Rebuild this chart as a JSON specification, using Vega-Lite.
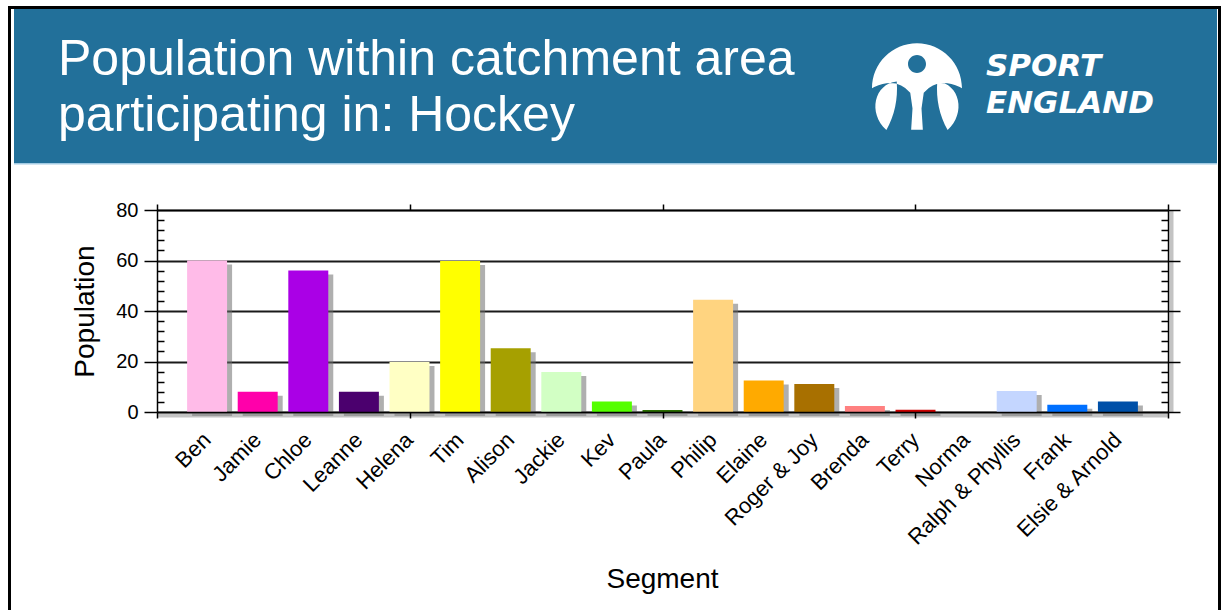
{
  "$schema": "https://vega.github.io/schema/vega-lite/v6.json",
  "width": 1011,
  "height": 202,
  "autosize": {"type": "none"},
  "padding": {"left": 157, "top": 210, "right": 55, "bottom": 198},
  "background": "white",
  "config": {"view": {"stroke": null}, "font": "Liberation Sans"},
  "datasets": {
    "segments": [
      {"Segment": "Ben", "Population": 60},
      {"Segment": "Jamie", "Population": 8},
      {"Segment": "Chloe", "Population": 56},
      {"Segment": "Leanne", "Population": 8},
      {"Segment": "Helena", "Population": 19.8},
      {"Segment": "Tim", "Population": 59.8},
      {"Segment": "Alison", "Population": 25.2},
      {"Segment": "Jackie", "Population": 15.8},
      {"Segment": "Kev", "Population": 4.2},
      {"Segment": "Paula", "Population": 0.8},
      {"Segment": "Philip", "Population": 44.5},
      {"Segment": "Elaine", "Population": 12.5},
      {"Segment": "Roger & Joy", "Population": 11.1},
      {"Segment": "Brenda", "Population": 2.4},
      {"Segment": "Terry", "Population": 0.9},
      {"Segment": "Norma", "Population": 0},
      {"Segment": "Ralph & Phyllis", "Population": 8.3},
      {"Segment": "Frank", "Population": 2.9},
      {"Segment": "Elsie & Arnold", "Population": 4.2}
    ]
  },
  "data": {"name": "segments"},
  "resolve": {
    "scale": {"x": "independent", "y": "independent"},
    "axis": {"x": "independent", "y": "independent"}
  },
  "layer": [
    {
      "data": {"values": [{}]},
      "mark": {"type": "rect", "fill": "#22709a"},
      "encoding": {"x": {"value": -143}, "x2": {"value": 1060}, "y": {"value": -201}, "y2": {"value": -47}}
    },
    {
      "data": {"values": [{}]},
      "mark": {"type": "rect", "fill": "#a3cbe3"},
      "encoding": {"x": {"value": -143}, "x2": {"value": 1060}, "y": {"value": -47}, "y2": {"value": -45.5}}
    },
    {
      "data": {"values": [{}]},
      "mark": {"type": "rect", "fill": "transparent", "stroke": "#000", "strokeWidth": 3},
      "encoding": {"x": {"value": -147.5}, "x2": {"value": 1062.5}, "y": {"value": -202.5}, "y2": {"value": 450}}
    },
    {
      "data": {"values": [{}]},
      "mark": {
        "type": "text",
        "text": ["Population within catchment area", "participating in: Hockey"],
        "font": "Liberation Sans",
        "fontSize": 50,
        "color": "#ffffff",
        "align": "left",
        "baseline": "alphabetic",
        "lineHeight": 56
      },
      "encoding": {"x": {"value": -99}, "y": {"value": -135}}
    },
    {
      "data": {"values": [{}]},
      "mark": {
        "type": "text",
        "text": ["SPORT", "ENGLAND"],
        "font": "DejaVu Sans",
        "fontWeight": "bold",
        "fontStyle": "italic",
        "fontSize": 31,
        "lineHeight": 37,
        "color": "#ffffff",
        "align": "left",
        "baseline": "alphabetic"
      },
      "encoding": {"x": {"value": 829}, "y": {"value": -134}}
    },
    {
      "data": {"values": [{}]},
      "mark": {
        "type": "point",
        "shape": "M -1,0.05 A 1 1 0 0 1 1,0.05 L 0.95,0.02 Q 0.45,-0.2 0.15,0.15 L 0.1,0.5 L 0.13,0.97 L -0.13,0.97 L -0.1,0.5 L -0.15,0.15 Q -0.45,-0.2 -0.95,0.02 Z M 0.2,-0.49 A 0.2 0.2 0 1 0 -0.2,-0.49 A 0.2 0.2 0 1 0 0.2,-0.49 Z M -0.45,-0.1 C -0.95,-0.05 -1.1,0.6 -0.68,0.98 C -0.5,0.65 -0.42,0.3 -0.45,-0.1 Z M 0.45,-0.1 C 0.95,-0.05 1.1,0.6 0.68,0.98 C 0.5,0.65 0.42,0.3 0.45,-0.1 Z",
        "size": 8100,
        "filled": true,
        "color": "#ffffff",
        "opacity": 1,
        "strokeWidth": 0
      },
      "encoding": {"x": {"value": 760}, "y": {"value": -124}}
    },
    {
      "encoding": {
        "x": {
          "field": "Segment",
          "type": "nominal",
          "sort": null,
          "scale": {"paddingInner": 0.21, "paddingOuter": 0.595},
          "axis": {
            "orient": "bottom",
            "zindex": 1,
            "ticks": false,
            "tickSize": 0,
            "domain": true,
            "domainColor": "#000",
            "domainWidth": 1.5,
            "labelAngle": -45,
            "labelAlign": "right",
            "labelBaseline": "middle",
            "labelPadding": 24,
            "labelFont": "Liberation Sans",
            "labelFontSize": 22,
            "labelColor": "#000",
            "labelOverlap": false,
            "title": "Segment",
            "titleFont": "Liberation Sans",
            "titleFontSize": 28,
            "titleFontWeight": "normal",
            "titleColor": "#000",
            "titleX": 505,
            "titleY": 175,
            "titleAlign": "center",
            "titleBaseline": "alphabetic"
          }
        },
        "y": {
          "field": "Population",
          "type": "quantitative",
          "scale": {"domain": [0, 80], "nice": false},
          "axis": {
            "orient": "left",
            "values": [0, 20, 40, 60, 80],
            "grid": true,
            "gridColor": "#1a1a1a",
            "gridWidth": 2,
            "gridOpacity": 1,
            "domainColor": "#000",
            "domainWidth": 1.5,
            "tickColor": "#000",
            "tickSize": 13,
            "tickWidth": 1.5,
            "labelFont": "Liberation Sans",
            "labelFontSize": 20,
            "labelColor": "#000",
            "labelPadding": 6,
            "title": "Population",
            "titleFont": "Liberation Sans",
            "titleFontSize": 28,
            "titleFontWeight": "normal",
            "titleColor": "#000",
            "titleAngle": -90,
            "titleX": -64,
            "titleY": 101,
            "titleAlign": "center",
            "titleBaseline": "alphabetic"
          }
        }
      },
      "layer": [
        {"mark": {"type": "bar", "color": "#6e6e6e", "opacity": 0.55, "xOffset": 5, "yOffset": 4}},
        {
          "mark": {"type": "bar"},
          "encoding": {
            "color": {
              "field": "Segment",
              "type": "nominal",
              "legend": null,
              "scale": {
                "domain": ["Ben", "Jamie", "Chloe", "Leanne", "Helena", "Tim", "Alison", "Jackie", "Kev", "Paula", "Philip", "Elaine", "Roger & Joy", "Brenda", "Terry", "Norma", "Ralph & Phyllis", "Frank", "Elsie & Arnold"],
                "range": ["#ffbbe8", "#ff00aa", "#aa00e6", "#4b006e", "#ffffc4", "#ffff00", "#a6a000", "#d2ffc4", "#55ff00", "#2a6e00", "#ffd480", "#ffaa00", "#a87000", "#ff8080", "#cc0000", "#aaaaaa", "#c4d6ff", "#0070ff", "#0050a8"]
              }
            }
          }
        }
      ]
    },
    {
      "data": {"values": [{}]},
      "mark": {"type": "rule", "color": "#888888", "opacity": 0.5, "strokeWidth": 4, "yOffset": 3.5},
      "encoding": {"y": {"datum": 0, "type": "quantitative", "scale": {"domain": [0, 80], "nice": false}, "axis": null}}
    },
    {
      "data": {"values": [{}]},
      "mark": {"type": "point", "opacity": 0},
      "encoding": {
        "y": {
          "datum": 0,
          "type": "quantitative",
          "scale": {"domain": [0, 80], "nice": false},
          "axis": {"orient": "left", "zindex": 1, "values": [4, 8, 12, 16, 24, 28, 32, 36, 44, 48, 52, 56, 64, 68, 72, 76], "tickSize": -7, "tickColor": "#000", "tickWidth": 1.5, "labels": false, "domain": false, "grid": false, "title": null}
        }
      }
    },
    {
      "data": {"values": [{}]},
      "mark": {"type": "point", "opacity": 0},
      "encoding": {
        "y": {
          "datum": 0,
          "type": "quantitative",
          "scale": {"domain": [0, 80], "nice": false},
          "axis": {"orient": "right", "zindex": 1, "values": [0, 20, 40, 60, 80], "tickSize": 12, "tickColor": "#000", "tickWidth": 1.5, "labels": false, "domain": true, "domainColor": "#000", "domainWidth": 1.5, "grid": false, "title": null}
        }
      }
    },
    {
      "data": {"values": [{}]},
      "mark": {"type": "point", "opacity": 0},
      "encoding": {
        "y": {
          "datum": 0,
          "type": "quantitative",
          "scale": {"domain": [0, 80], "nice": false},
          "axis": {"orient": "right", "zindex": 1, "values": [4, 8, 12, 16, 24, 28, 32, 36, 44, 48, 52, 56, 64, 68, 72, 76], "tickSize": -7, "tickColor": "#000", "tickWidth": 1.5, "labels": false, "domain": false, "grid": false, "title": null}
        }
      }
    },
    {
      "data": {"values": [{}]},
      "mark": {"type": "point", "opacity": 0},
      "encoding": {
        "x": {
          "datum": 0,
          "type": "quantitative",
          "scale": {"domain": [0, 4], "nice": false},
          "axis": {"orient": "top", "zindex": 1, "values": [0, 1, 2, 3, 4], "tickSize": 6, "tickColor": "#000", "tickWidth": 1.5, "labels": false, "domain": true, "domainColor": "#000", "domainWidth": 1.5, "grid": false, "title": null}
        }
      }
    },
    {
      "data": {"values": [{}]},
      "mark": {"type": "rule", "color": "#888888", "opacity": 0.5, "strokeWidth": 4, "xOffset": 3.5},
      "encoding": {
        "x": {
          "datum": 4,
          "type": "quantitative",
          "scale": {"domain": [0, 4], "nice": false},
          "axis": {"orient": "bottom", "zindex": 1, "values": [0, 1, 2, 3, 4], "tickSize": 6, "tickColor": "#000", "tickWidth": 1.5, "labels": false, "domain": false, "grid": false, "title": null}
        }
      }
    }
  ]
}
